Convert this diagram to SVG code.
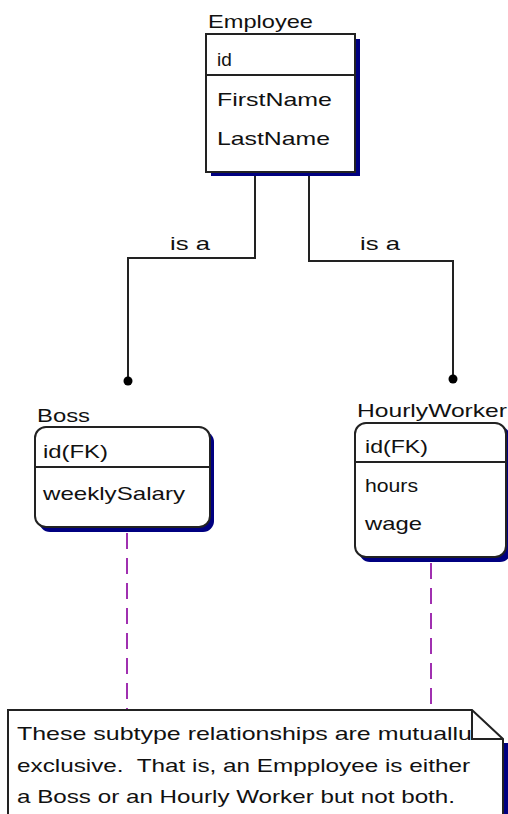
<svg xmlns="http://www.w3.org/2000/svg" width="508" height="814" viewBox="0 0 508 814">
  <style>
    text { font-family: "Liberation Sans", Arial, sans-serif; font-size: 19px; fill: #111; }
    .box { fill: #fff; stroke: #222; stroke-width: 2; }
    .shadow { fill: #000080; }
    .sep { stroke: #222; stroke-width: 2; }
    .rel { fill: none; stroke: #222; stroke-width: 2; }
    .anchor { fill: none; stroke: #a030b0; stroke-width: 2; stroke-dasharray: 16 9; }
  </style>
  <rect width="508" height="814" fill="#fff"/>

  <!-- relationship lines -->
  <g id="connectors">
    <polyline class="rel" points="255,172 255,258 128,258 128,380"/>
    <circle cx="128" cy="381" r="4.5" fill="#000"/>
    <text x="170" y="250" textLength="40" lengthAdjust="spacingAndGlyphs">is a</text>
    <polyline class="rel" points="309,172 309,261 453,261 453,378"/>
    <circle cx="453" cy="379" r="4.5" fill="#000"/>
    <text x="360" y="250" textLength="40" lengthAdjust="spacingAndGlyphs">is a</text>
    <line class="anchor" x1="127" y1="533" x2="127" y2="709"/>
    <line class="anchor" x1="431" y1="563" x2="431" y2="709"/>
  </g>

  <!-- Employee entity -->
  <g id="employee">
    <text x="208" y="28" textLength="105" lengthAdjust="spacingAndGlyphs">Employee</text>
    <rect class="shadow" x="211" y="39" width="149" height="137"/>
    <rect class="box" x="206" y="34" width="149" height="138"/>
    <line class="sep" x1="206" y1="75" x2="355" y2="75"/>
    <text x="217" y="66">id</text>
    <text x="217" y="106" textLength="115" lengthAdjust="spacingAndGlyphs">FirstName</text>
    <text x="217" y="145" textLength="113" lengthAdjust="spacingAndGlyphs">LastName</text>
  </g>

  <!-- Boss entity -->
  <g id="boss">
    <text x="37" y="422" textLength="53" lengthAdjust="spacingAndGlyphs">Boss</text>
    <rect class="shadow" x="39" y="431" width="175" height="101" rx="11"/>
    <rect class="box" x="35" y="427" width="175" height="100" rx="11"/>
    <line class="sep" x1="35" y1="467" x2="210" y2="467"/>
    <text x="43" y="458" textLength="65" lengthAdjust="spacingAndGlyphs">id(FK)</text>
    <text x="43" y="500" textLength="142" lengthAdjust="spacingAndGlyphs">weeklySalary</text>
  </g>

  <!-- HourlyWorker entity -->
  <g id="hourlyworker">
    <text x="357" y="417" textLength="150" lengthAdjust="spacingAndGlyphs">HourlyWorker</text>
    <rect class="shadow" x="359" y="427" width="152" height="135" rx="11"/>
    <rect class="box" x="355" y="423" width="151" height="134" rx="11"/>
    <line class="sep" x1="355" y1="462" x2="506" y2="462"/>
    <text x="365" y="453" textLength="63" lengthAdjust="spacingAndGlyphs">id(FK)</text>
    <text x="365" y="492" textLength="53" lengthAdjust="spacingAndGlyphs">hours</text>
    <text x="365" y="530" textLength="57" lengthAdjust="spacingAndGlyphs">wage</text>
  </g>

  <!-- note -->
  <g id="note">
    <rect class="shadow" x="503" y="743" width="5" height="71"/>
    <path class="box" d="M8,830 V710 H472 L503,739 V830"/>
    <path class="rel" d="M472,710 V739 H503"/>
    <text x="17" y="740" textLength="455" lengthAdjust="spacingAndGlyphs">These subtype relationships are mutuallu</text>
    <text x="17" y="772" textLength="453" lengthAdjust="spacingAndGlyphs">exclusive.&#160; That is, an Empployee is either</text>
    <text x="17" y="803" textLength="438" lengthAdjust="spacingAndGlyphs">a Boss or an Hourly Worker but not both.</text>
  </g>
</svg>
